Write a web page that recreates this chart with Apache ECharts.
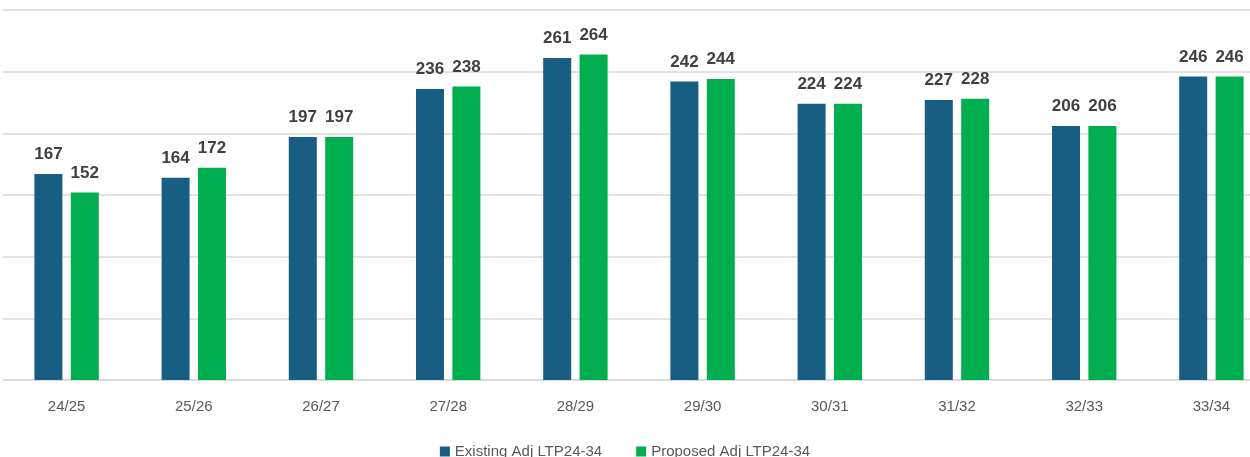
<!DOCTYPE html>
<html>
<head>
<meta charset="utf-8">
<script src="https://cdn.jsdelivr.net/npm/echarts@6/dist/echarts.min.js"></script>
<style>
  html, body { margin: 0; padding: 0; background: #fff; }
  #main { width: 1250px; height: 457px; }
</style>
</head>
<body>
<div id="main"></div>
<script>
// 年度类别
var years = ['24/25', '25/26', '26/27', '27/28', '28/29', '29/30', '30/31', '31/32', '32/33', '33/34'];
// 现有方案
var existing = [167, 164, 197, 236, 261, 242, 224, 227, 206, 246];
// 建议方案
var proposed = [152, 172, 197, 238, 264, 244, 224, 228, 206, 246];

var myChart = echarts.init(document.getElementById('main'));

var labelStyle = {
    show: true,
    position: 'top',
    distance: 11,
    fontFamily: 'Liberation Sans',
    fontWeight: 'bold',
    fontSize: 17,
    color: '#404040'
};

var option = {
    animation: false,
    grid: { left: 3, top: 10, right: -25, height: 370, containLabel: false, outerBoundsMode: 'none' },
    legend: {
        bottom: -7,
        left: 'center',
        itemWidth: 10,
        itemHeight: 10,
        itemGap: 34,
        icon: 'rect',
        textStyle: { fontFamily: 'Liberation Sans', fontSize: 15, color: '#595959' },
        data: ['Existing Adj LTP24-34', 'Proposed Adj LTP24-34']
    },
    xAxis: {
        type: 'category',
        data: years,
        axisLine: { lineStyle: { color: '#d9d9d9', width: 1.5 } },
        axisTick: { show: false },
        axisLabel: { fontFamily: 'Liberation Sans', fontSize: 15, color: '#595959', margin: 19 }
    },
    yAxis: {
        type: 'value',
        min: 0,
        max: 300,
        interval: 50,
        axisLabel: { show: false },
        axisLine: { show: false },
        splitLine: { lineStyle: { color: '#d9d9d9', width: 1.5 } }
    },
    series: [
        {
            name: 'Existing Adj LTP24-34',
            type: 'bar',
            data: existing,
            barWidth: 28,
            barGap: '30%',
            itemStyle: { color: '#175e82' },
            label: labelStyle
        },
        {
            name: 'Proposed Adj LTP24-34',
            type: 'bar',
            data: proposed,
            barWidth: 28,
            barGap: '30%',
            itemStyle: { color: '#00ae4f' },
            label: labelStyle
        }
    ]
};

myChart.setOption(option);
</script>
</body>
</html>
